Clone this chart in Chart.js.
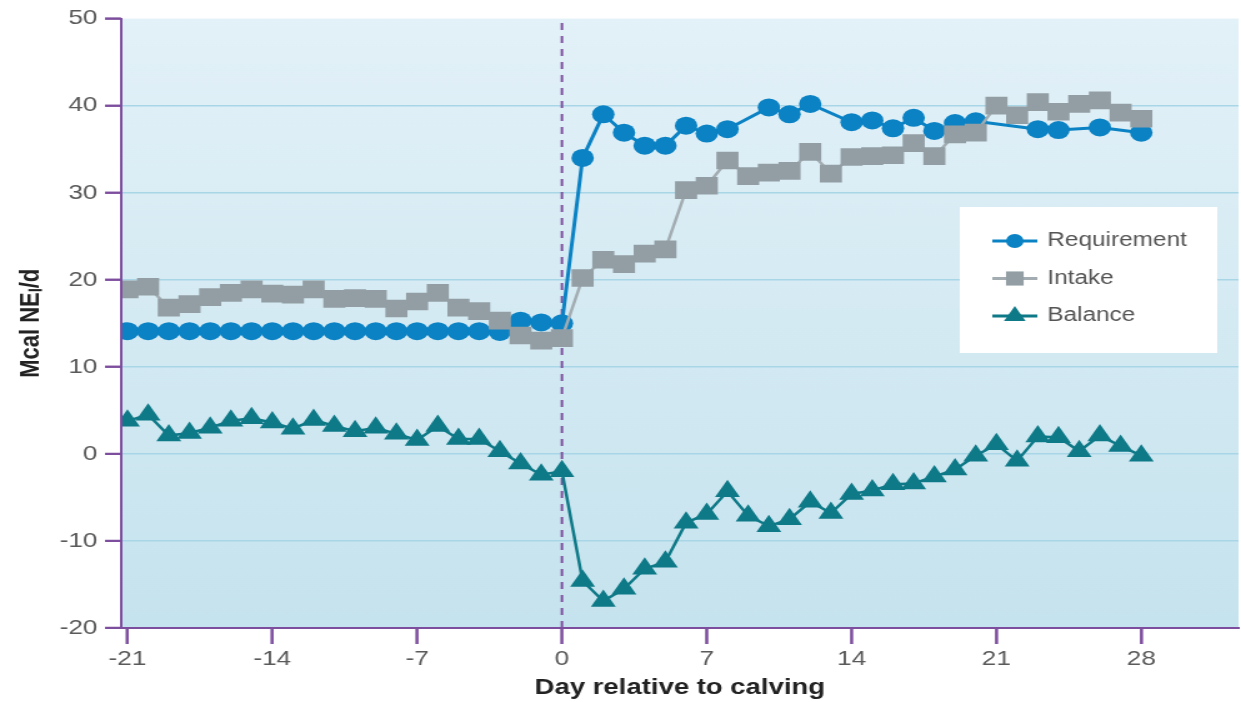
<!DOCTYPE html>
<html>
<head>
<meta charset="utf-8">
<script src="https://cdn.jsdelivr.net/npm/chart.js@4.4.1/dist/chart.umd.min.js"></script>
<style>
  html, body { margin: 0; padding: 0; background: #fff; overflow: hidden; }
  #wrap { width: 1241px; height: 702px; }
  /* the source figure is stretched sideways; draw narrow, show wide */
  #energyChart { display: block; }
</style>
</head>
<body>
<div id="wrap"><canvas id="energyChart" width="993" height="702" style="width:1241px;height:702px"></canvas></div>
<script>
// days relative to calving
const days = [-21, -20, -19, -18, -17, -16, -15, -14, -13, -12, -11, -10, -9, -8, -7, -6, -5, -4, -3, -2, -1, 0,
  1, 2, 3, 4, 5, 6, 7, 8, 9, 10, 11, 12, 13, 14, 15, 16, 17, 18, 19, 20, 21, 22, 23, 24, 25, 26, 27, 28];

// Mcal NE/d (null = no marker shown)
const requirement = [14.1, 14.1, 14.1, 14.1, 14.1, 14.1, 14.1, 14.1, 14.1, 14.1, 14.1, 14.1, 14.1, 14.1, 14.1, 14.1, 14.1, 14.1, 14.0, 15.3, 15.1, 15.0,
  34.0, 39.0, 36.9, 35.4, 35.4, 37.7, 36.8, 37.3, null, 39.8, 39.0, 40.2, null, 38.1, 38.3, 37.4, 38.6, 37.1, 38.0, 38.2, null, null, 37.3, 37.2, null, 37.5, null, 36.9];

const intake = [18.9, 19.2, 16.8, 17.2, 18.0, 18.5, 18.9, 18.4, 18.3, 18.9, 17.8, 17.9, 17.8, 16.7, 17.5, 18.5, 16.8, 16.4, 15.3, 13.6, 13.0, 13.3,
  20.2, 22.3, 21.8, 23.0, 23.5, 30.3, 30.8, 33.7, 31.9, 32.3, 32.5, 34.7, 32.2, 34.1, 34.2, 34.3, 35.7, 34.2, 36.7, 36.9, 40.0, 38.9, 40.4, 39.3, 40.2, 40.6, 39.2, 38.5];

const balance = [3.8, 4.5, 2.1, 2.4, 3.0, 3.8, 4.1, 3.6, 2.9, 3.9, 3.2, 2.6, 3.0, 2.3, 1.6, 3.2, 1.7, 1.7, 0.3, -1.1, -2.4, -2.0,
  -14.6, -16.9, -15.5, -13.2, -12.4, -7.9, -6.9, -4.3, -7.1, -8.3, -7.5, -5.5, -6.8, -4.6, -4.2, -3.5, -3.4, -2.6, -1.8, -0.2, 1.1, -0.8, 2.0, 1.9, 0.3, 2.1, 0.9, -0.2];

const xTickLabels = [-21, -14, -7, 0, 7, 14, 21, 28];
const yTickLabels = [-20, -10, 0, 10, 20, 30, 40, 50];
const legendOrder = ['Requirement', 'Intake', 'Balance'];
const calvingDay = 0;

const AXIS_PURPLE = '#7d4e9e';
const FONT = "'Liberation Sans', Arial, Helvetica, sans-serif";

function toPoints(values) {
  return days.map((d, i) => ({ x: d, y: values[i] }));
}

// plot background gradient
const plotBackground = {
  id: 'plotBackground',
  beforeDraw(chart) {
    const { ctx, chartArea: a } = chart;
    ctx.save();
    ctx.fillStyle = '#ffffff';
    ctx.fillRect(0, 0, chart.width, chart.height);
    const g = ctx.createLinearGradient(0, a.top, 0, a.bottom);
    g.addColorStop(0, '#e3f1f8');
    g.addColorStop(1, '#c5e3ee');
    ctx.fillStyle = g;
    ctx.fillRect(a.left, a.top, a.right - a.left, a.bottom - a.top);
    ctx.restore();
  }
};

// purple axis lines and outward tick marks
const axisMarks = {
  id: 'axisMarks',
  afterDraw(chart) {
    const { ctx, chartArea: a, scales } = chart;
    ctx.save();
    ctx.strokeStyle = AXIS_PURPLE;
    ctx.lineWidth = 2;
    ctx.beginPath();
    ctx.moveTo(a.left, a.top);
    ctx.lineTo(a.left, a.bottom);
    ctx.lineTo(a.right, a.bottom);
    xTickLabels.forEach(v => {
      const x = scales.x.getPixelForValue(v);
      ctx.moveTo(x, a.bottom);
      ctx.lineTo(x, a.bottom + 16);
    });
    yTickLabels.forEach(v => {
      const y = scales.y.getPixelForValue(v);
      ctx.moveTo(a.left, y);
      ctx.lineTo(a.left - 13, y);
    });
    ctx.stroke();
    ctx.restore();
  }
};

// boxed legend inside the plot (canvas units, canvas is shown 1.25x wider)
const boxLegend = {
  id: 'boxLegend',
  afterDraw(chart) {
    const ctx = chart.ctx;
    ctx.save();
    ctx.fillStyle = '#ffffff';
    ctx.fillRect(768, 207, 206, 146);
    legendOrder.forEach((name, i) => {
      const ds = chart.data.datasets.find(d => d.label === name);
      const y = 241 + i * 37.5;
      ctx.strokeStyle = ds.borderColor;
      ctx.lineWidth = 3;
      ctx.beginPath();
      ctx.moveTo(794, y);
      ctx.lineTo(830, y);
      ctx.stroke();
      ctx.fillStyle = ds.pointBackgroundColor;
      ctx.strokeStyle = ds.pointBackgroundColor;
      Chart.helpers.drawPoint(ctx, {
        pointStyle: ds.pointStyle, radius: ds.legendRadius, rotation: 0, borderWidth: 0
      }, 812, y);
      ctx.fillStyle = '#555555';
      ctx.font = '19.5px ' + FONT;
      ctx.textBaseline = 'middle';
      ctx.fillText(ds.label, 838, y);
    });
    ctx.restore();
  }
};

const ctx = document.getElementById('energyChart').getContext('2d');

new Chart(ctx, {
  type: 'line',
  data: {
    datasets: [
      {
        label: 'Intake',
        data: toPoints(intake),
        borderColor: '#a2acb1',
        borderWidth: 2.5,
        pointStyle: 'rect',
        pointRadius: 12.5,
        pointBackgroundColor: '#939ea4',
        pointBorderWidth: 0,
        legendRadius: 10,
        spanGaps: true,
        order: 1
      },
      {
        label: 'Requirement',
        data: toPoints(requirement),
        borderColor: '#0a82c4',
        borderWidth: 3,
        pointStyle: 'circle',
        pointRadius: 9,
        pointBackgroundColor: '#0a82c4',
        pointBorderWidth: 0,
        legendRadius: 7,
        spanGaps: true,
        order: 2
      },
      {
        label: 'Balance',
        data: toPoints(balance),
        borderColor: '#0e7987',
        borderWidth: 2.5,
        pointStyle: 'triangle',
        pointRadius: 11.5,
        pointBackgroundColor: '#0e7987',
        pointBorderWidth: 0,
        legendRadius: 10,
        spanGaps: true,
        order: 3
      },
      {
        label: 'Calving',
        data: [{ x: calvingDay, y: -20 }, { x: calvingDay, y: 50 }],
        borderColor: AXIS_PURPLE,
        borderWidth: 2,
        borderDash: [7, 6],
        pointRadius: 0,
        order: 10
      }
    ]
  },
  options: {
    responsive: false,
    animation: false,
    layout: { autoPadding: false, padding: { top: 18, right: 2, left: 0, bottom: 0 } },
    plugins: {
      legend: { display: false },
      tooltip: { enabled: false }
    },
    scales: {
      x: {
        type: 'linear',
        min: -21.3,
        max: 32.7,
        afterBuildTicks: (scale) => { scale.ticks = xTickLabels.map(v => ({ value: v })); },
        afterFit: (scale) => {
          scale.height = 74;
          scale.paddingLeft = 0;
          scale.paddingRight = 0;
        },
        grid: { drawOnChartArea: false, drawTicks: true, tickLength: 16, tickColor: AXIS_PURPLE, tickWidth: 2 },
        border: { color: AXIS_PURPLE, width: 2 },
        ticks: { color: '#5a5a5a', font: { family: FONT, size: 21 }, padding: 3, maxRotation: 0, autoSkip: false },
        title: {
          display: true,
          text: 'Day relative to calving',
          color: '#222222',
          font: { family: FONT, size: 22, weight: 'bold' },
          padding: { top: 0, bottom: 1 }
        }
      },
      y: {
        min: -20,
        max: 50,
        afterBuildTicks: (scale) => { scale.ticks = yTickLabels.map(v => ({ value: v })); },
        afterFit: (scale) => { scale.width = 97; },
        grid: {
          color: (c) => (c.tick && (c.tick.value === 50 || c.tick.value === -20)) ? 'rgba(0,0,0,0)' : '#a9d6e7',
          lineWidth: 1.5,
          tickLength: 13,
          tickColor: AXIS_PURPLE,
          tickWidth: 2
        },
        border: { color: AXIS_PURPLE, width: 2 },
        ticks: { color: '#5a5a5a', font: { family: FONT, size: 21 }, padding: 6 },
        title: {
          display: true,
          text: 'Mcal NE\u2097/d',
          color: '#222222',
          font: { family: FONT, size: 22, weight: 'bold' },
          padding: { top: 12, bottom: 0 }
        }
      }
    }
  },
  plugins: [plotBackground, axisMarks, boxLegend]
});
</script>
</body>
</html>
